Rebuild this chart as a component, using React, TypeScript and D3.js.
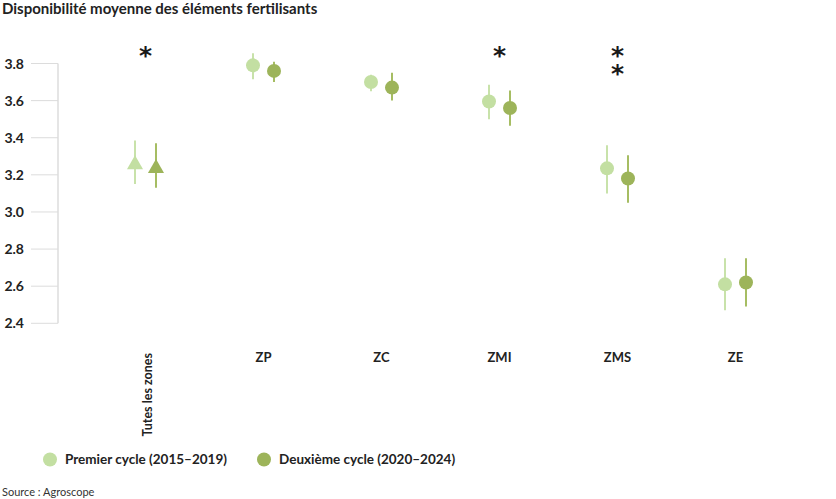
import React, { useEffect, useRef } from "react"
import * as d3 from "d3"

// zones and values
const zones = ["Tutes les zones", "ZP", "ZC", "ZMI", "ZMS", "ZE"]
const cycle1Mean = [3.255, 3.79, 3.7, 3.595, 3.235, 2.61]
const cycle1Low = [3.15, 3.715, 3.65, 3.5, 3.1, 2.47]
const cycle1High = [3.385, 3.855, 3.74, 3.685, 3.36, 2.75]
const cycle2Mean = [3.235, 3.76, 3.67, 3.56, 3.18, 2.62]
const cycle2Low = [3.13, 3.7, 3.6, 3.465, 3.05, 2.49]
const cycle2High = [3.37, 3.81, 3.75, 3.655, 3.305, 2.75]
const stars = [1, 0, 0, 1, 2, 0]
const yTicks = [2.4, 2.6, 2.8, 3.0, 3.2, 3.4, 3.6, 3.8]
const seriesNames = ["Premier cycle (2015–2019)", "Deuxième cycle (2020–2024)"]

const W = 836
const H = 499
const FONT = "Lato, 'Noto Sans', sans-serif"
const LIGHT = "#c3dfa2"
const DARK = "#9db45a"
const LIGHT_BAR = "#c8e2aa"
const DARK_BAR = "#a6bd63"

const App: React.FC = () => {
  const svgRef = useRef<SVGSVGElement | null>(null)

  useEffect(() => {
    if (!svgRef.current) return
    const svg = d3.select(svgRef.current)
    svg.selectAll("*").remove()

    const y = d3.scaleLinear().domain([2.4, 3.8]).range([323.3, 63.5])
    const x = d3.scaleBand<string>().domain(zones).range([86.5, 794.5])
    const cx = (z: string) => (x(z) ?? 0) + x.bandwidth() / 2
    const off = 10.5

    // title
    svg.append("text")
      .attr("x", 2).attr("y", 14)
      .attr("font-family", FONT).attr("font-weight", 700).attr("font-size", 15)
      .attr("fill", "#222")
      .text("Disponibilité moyenne des éléments fertilisants")

    // y axis
    const ya = svg.append("g")
    ya.append("line")
      .attr("x1", 58).attr("x2", 58)
      .attr("y1", y(3.8)).attr("y2", y(2.4))
      .attr("stroke", "#dcdcdc").attr("stroke-width", 1.5)
    yTicks.forEach((t) => {
      ya.append("line")
        .attr("x1", 31).attr("x2", 58)
        .attr("y1", y(t)).attr("y2", y(t))
        .attr("stroke", "#dcdcdc").attr("stroke-width", 1)
      ya.append("text")
        .attr("x", 24).attr("y", y(t)).attr("dy", "0.36em")
        .attr("text-anchor", "end")
        .attr("font-family", FONT).attr("font-weight", 700).attr("font-size", 14)
        .attr("fill", "#222")
        .text(t.toFixed(1))
    })

    // x labels
    zones.forEach((z, i) => {
      if (i === 0) {
        svg.append("text")
          .attr("transform", `translate(${cx(z) + 6.5}, 353) rotate(-90)`)
          .attr("text-anchor", "end")
          .attr("font-family", FONT).attr("font-weight", 700).attr("font-size", 12.5)
          .attr("fill", "#222")
          .text(z)
      } else {
        svg.append("text")
          .attr("x", cx(z)).attr("y", 362)
          .attr("text-anchor", "middle")
          .attr("font-family", FONT).attr("font-weight", 700).attr("font-size", 13)
          .attr("fill", "#222")
          .text(z)
      }
    })

    // points with error bars
    const series = [
      { mean: cycle1Mean, low: cycle1Low, high: cycle1High, fill: LIGHT, bar: LIGHT_BAR, dx: -off },
      { mean: cycle2Mean, low: cycle2Low, high: cycle2High, fill: DARK, bar: DARK_BAR, dx: off },
    ]
    const tri = d3.symbol().type(d3.symbolTriangle).size(112)
    series.forEach((s) => {
      const g = svg.append("g")
      zones.forEach((z, i) => {
        const px = cx(z) + s.dx
        g.append("line")
          .attr("x1", px).attr("x2", px)
          .attr("y1", y(s.high[i])).attr("y2", y(s.low[i]))
          .attr("stroke", s.bar).attr("stroke-width", 2)
        if (i === 0) {
          g.append("path")
            .attr("d", tri())
            .attr("transform", `translate(${px}, ${y(s.mean[i])})`)
            .attr("fill", s.fill)
        } else {
          g.append("circle")
            .attr("cx", px).attr("cy", y(s.mean[i])).attr("r", 7)
            .attr("fill", s.fill)
        }
      })
    })

    // significance stars (one text per zone, stacked with tspans)
    zones.forEach((z, i) => {
      if (stars[i] === 0) return
      const t = svg.append("text")
        .attr("text-anchor", "middle")
        .attr("font-family", "'DejaVu Sans', sans-serif").attr("font-weight", 700).attr("font-size", 25)
        .attr("fill", "#1a1a1a")
      for (let k = 0; k < stars[i]; k++) {
        t.append("tspan")
          .attr("x", cx(z)).attr("y", 64 + k * 17.5)
          .text("*")
      }
    })

    // legend
    const legendX = [50, 264]
    seriesNames.forEach((name, i) => {
      svg.append("circle")
        .attr("cx", legendX[i]).attr("cy", 459.5).attr("r", 7)
        .attr("fill", i === 0 ? LIGHT : DARK)
      svg.append("text")
        .attr("x", legendX[i] + 15).attr("y", 464)
        .attr("font-family", FONT).attr("font-weight", 700).attr("font-size", 13.5)
        .attr("fill", "#222")
        .text(name)
    })

    // source
    svg.append("text")
      .attr("x", 2).attr("y", 496)
      .attr("font-family", FONT).attr("font-size", 11)
      .attr("fill", "#333")
      .text("Source : Agroscope")
  }, [])

  return (
    <div style={{ position: "absolute", left: 0, top: 0 }}>
      <svg ref={svgRef} width={W} height={H}></svg>
    </div>
  )
}

export default App
